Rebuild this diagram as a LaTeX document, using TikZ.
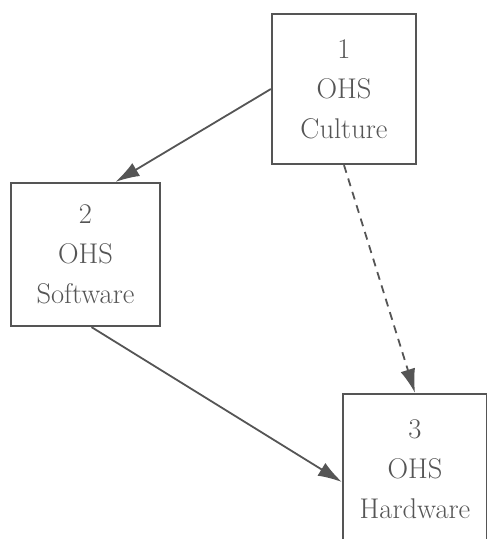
\documentclass[tikz,border=0pt]{standalone}
\usetikzlibrary{arrows.meta}
\definecolor{inkgray}{RGB}{85,85,85}
\tikzset{
  ohsbox/.style={draw=inkgray, line width=2.2pt, text=inkgray, align=center,
    minimum width=144pt, minimum height=150pt, inner sep=0pt,
    font=\fontsize{28.5}{40}\selectfont},
  link/.style={draw=inkgray, line width=1.8pt,
    -{Latex[length=24pt,width=15pt]}}
}
\begin{document}
\begin{tikzpicture}[x=1pt, y=1pt]
    % Frame of the picture
    \useasboundingbox (0,0) rectangle (487,-539);
    \clip (0,0) rectangle (487,-539);

    % The three boxes
    \node[ohsbox] (culture) at (344,-89) {1\\OHS\\Culture};
    \node[ohsbox, minimum width=149pt, minimum height=143pt] (software) at (85.5,-254.5) {2\\OHS\\Software};
    \node[ohsbox] (hardware) at (415,-469) {3\\OHS\\Hardware};

    % Links between them
    \draw[link] (culture.west) -- ([xshift=30pt]software.north);
    \draw[link, dash pattern=on 8pt off 6pt] (culture.south) -- (hardware.north);
    \draw[link] ([xshift=6pt]software.south) -- ([yshift=-13pt]hardware.west);
\end{tikzpicture}
\end{document}
